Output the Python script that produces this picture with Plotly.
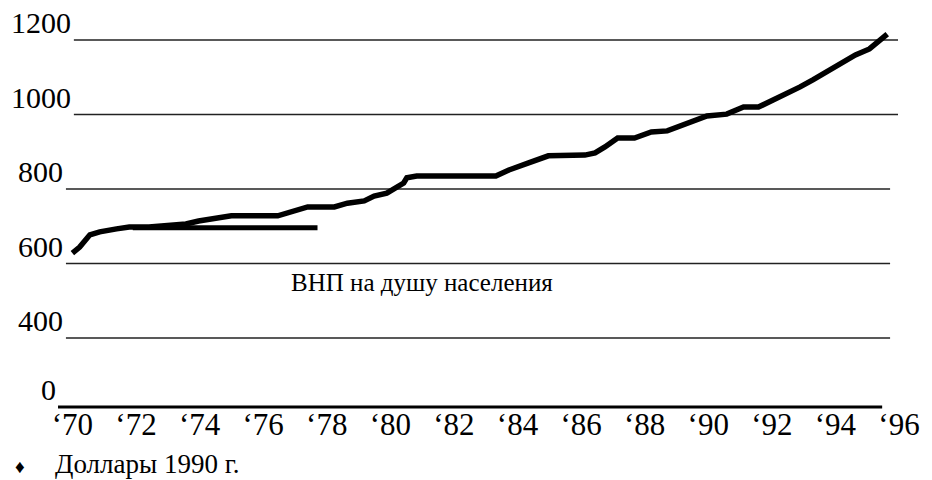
import plotly.graph_objects as go

# ---- data ----
gnp_years = [1970.0, 1970.23, 1970.55, 1970.86, 1971.39, 1971.79, 1972.41, 1972.94,
             1973.57, 1973.97, 1974.5, 1975.0, 1976.46, 1976.87, 1977.4, 1978.24,
             1978.65, 1979.18, 1979.49, 1979.89, 1980.2, 1980.42, 1980.52, 1980.83,
             1983.32, 1983.73, 1984.35, 1984.97, 1986.12, 1986.44, 1986.75, 1987.15,
             1987.68, 1988.21, 1988.71, 1989.14, 1989.55, 1989.96, 1990.58, 1991.11,
             1991.58, 1992.04, 1992.45, 1992.89, 1993.29, 1993.7, 1994.13, 1994.63,
             1995.07, 1995.38, 1995.63]
gnp_values = [628, 644, 677, 685, 693, 698, 698, 701,
              706, 714, 722, 728, 728, 738, 752, 752,
              762, 768, 781, 789, 805, 816, 830, 835,
              835, 851, 870, 889, 891, 897, 913, 937,
              937, 953, 956, 969, 985, 996, 1001, 1020,
              1020, 1039, 1052, 1074, 1093, 1114, 1138, 1160,
              1176, 1197, 1216]

flat_years = [1971.9, 1977.71]
flat_values = [696, 696]

y_tick_values = [1200, 1000, 800, 600, 400]
y_tick_labels = ["1200", "1000", "800", "600", "400"]
zero_label = "0"

x_tick_years = list(range(1970, 1997, 2))
x_tick_labels = ["\u2018" + str(y)[2:] for y in x_tick_years]

series_label = "ВНП на душу населения"
footnote = "Доллары 1990 г."

# ---- layout constants ----
W, H = 932, 480
ML, MR, MT, MB = 60, 25, 30, 73
PW = W - ML - MR
PH = H - MT - MB
FONT = "Liberation Serif, Times New Roman, serif"

# x scale: 1970 centred at 72.5px, 1996 at 907px
px_per_year = (907 - 72.5) / 26.0
x_range = [1970 - (72.5 - ML) / px_per_year, 1970 + (W - MR - 72.5) / px_per_year]
# y scale: 200 units per 74.5px, 1200 at 40px
px_per_unit = 74.5 / 200.0
y_range = [1200 - (MT + PH - 40) / px_per_unit, 1200 + (40 - MT) / px_per_unit]


def px_to_paper(px):
    return (px - ML) / PW


def py_to_paper(py):
    return 1 - (py - MT) / PH


fig = go.Figure()
fig.add_trace(go.Scatter(x=gnp_years, y=gnp_values, mode="lines",
                         line=dict(color="black", width=5.5), hoverinfo="skip",
                         showlegend=False))
fig.add_trace(go.Scatter(x=flat_years, y=flat_values, mode="lines",
                         line=dict(color="black", width=5), hoverinfo="skip",
                         showlegend=False))

shapes = []
annotations = []
# gridlines drawn like underscores after each label
line_spans = {1200: (74, 906, 72), 1000: (74, 906, 72), 800: (66, 898, 64),
              600: (66, 898, 64), 400: (66, 898, 64)}
for v, lab in zip(y_tick_values, y_tick_labels):
    x0, x1, xr = line_spans[v]
    shapes.append(dict(type="line", xref="paper", yref="y",
                       x0=px_to_paper(x0), x1=px_to_paper(x1), y0=v, y1=v,
                       line=dict(color="#222222", width=1.5), layer="below"))
    annotations.append(dict(xref="paper", yref="y", x=px_to_paper(xr + 1), y=v,
                            text=lab, showarrow=False, xanchor="right",
                            yanchor="bottom", yshift=-1,
                            font=dict(family=FONT, size=30, color="black")))
# zero line (thick)
shapes.append(dict(type="line", xref="paper", yref="paper",
                   x0=px_to_paper(58), x1=px_to_paper(890), y0=0, y1=0,
                   line=dict(color="black", width=3)))
annotations.append(dict(xref="paper", yref="paper", x=px_to_paper(58), y=0,
                        text=zero_label, showarrow=False, xanchor="right",
                        yanchor="bottom", yshift=-1,
                        font=dict(family=FONT, size=30, color="black")))

annotations.append(dict(xref="paper", yref="paper", x=px_to_paper(425),
                        y=py_to_paper(282), text=series_label, showarrow=False,
                        xanchor="center", yanchor="middle",
                        font=dict(family=FONT, size=25, color="black")))
annotations.append(dict(xref="paper", yref="paper", x=px_to_paper(53),
                        y=py_to_paper(464), text=footnote, showarrow=False,
                        xanchor="left", yanchor="middle",
                        font=dict(family=FONT, size=27, color="black")))
annotations.append(dict(xref="paper", yref="paper", x=px_to_paper(20),
                        y=py_to_paper(466), text="\u2666", showarrow=False,
                        xanchor="center", yanchor="middle",
                        font=dict(family=FONT, size=19, color="black")))

fig.update_layout(
    width=W, height=H,
    margin=dict(l=ML, r=MR, t=MT, b=MB, pad=0),
    paper_bgcolor="white", plot_bgcolor="white",
    shapes=shapes, annotations=annotations,
    xaxis=dict(range=x_range, tickvals=x_tick_years, ticktext=x_tick_labels,
               showgrid=False, zeroline=False, showline=False, ticks="",
               ticklabelstandoff=-4,
               tickfont=dict(family=FONT, size=31, color="black"),
               fixedrange=True),
    yaxis=dict(range=y_range, showgrid=False, zeroline=False, showline=False,
               showticklabels=False, ticks="", fixedrange=True),
)

fig.write_html("out.html", config={"displayModeBar": False},
               post_script="document.body.style.margin='0';")
